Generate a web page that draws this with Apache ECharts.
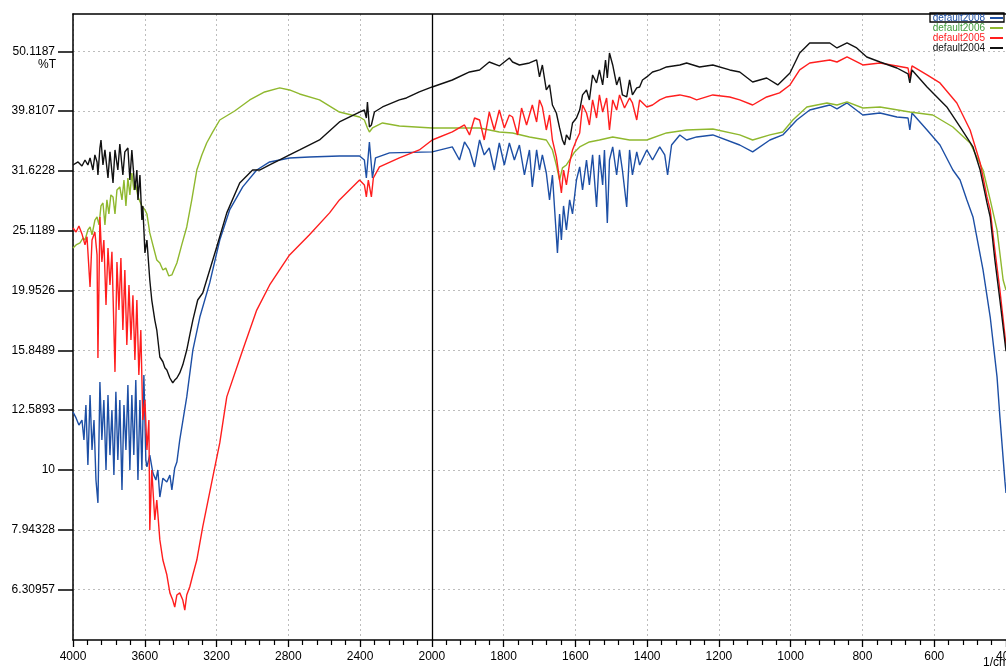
<!DOCTYPE html>
<html>
<head>
<meta charset="utf-8">
<title>%T spectra</title>
<script src="https://cdn.jsdelivr.net/npm/echarts@6/dist/echarts.min.js"></script>
<style>
  html, body { margin: 0; padding: 0; background: #fff; }
  #chart { width: 1006px; height: 666px; }
</style>
</head>
<body>
<div id="chart"></div>
<script>
// wavenumber (1/cm), %T
const s2008 = [[4000,12.50],[3983,12.22],[3967,11.89],[3950,12.12],[3939,11.23],[3928,12.84],[3917,10.19],[3905,13.35],[3894,10.80],[3883,12.12],[3872,9.62],[3861,8.81],[3850,14.03],[3839,11.23],[3828,13.09],[3816,10.00],[3805,13.35],[3794,10.59],[3783,12.60],[3772,9.81],[3761,13.51],[3750,10.39],[3739,13.09],[3727,9.26],[3716,12.84],[3705,10.80],[3694,13.87],[3683,10.00],[3672,13.35],[3661,10.59],[3650,14.14],[3638,9.62],[3627,13.09],[3616,10.00],[3605,14.42],[3594,10.39],[3588,10.12],[3572,10.59],[3555,9.89],[3538,9.62],[3527,10.00],[3516,9.01],[3499,9.69],[3477,9.55],[3460,9.81],[3449,9.26],[3433,10.08],[3421,10.31],[3405,11.23],[3366,13.25],[3332,15.87],[3293,18.02],[3238,20.55],[3182,24.24],[3127,27.22],[3054,29.74],[2976,31.74],[2904,32.74],[2793,33.25],[2682,33.38],[2515,33.50],[2403,33.50],[2376,32.99],[2365,30.78],[2348,35.36],[2331,30.78],[2314,33.25],[2236,33.90],[1999,34.03],[1943,34.69],[1923,32.99],[1909,35.36],[1895,34.29],[1881,32.12],[1867,35.63],[1854,33.64],[1840,34.55],[1826,31.74],[1812,35.22],[1798,32.36],[1784,35.22],[1770,32.99],[1756,34.95],[1742,31.14],[1728,34.29],[1720,29.74],[1708,34.29],[1700,31.74],[1692,33.64],[1681,31.38],[1672,28.29],[1664,31.14],[1655,25.69],[1650,23.07],[1644,26.80],[1639,24.24],[1633,27.64],[1625,25.20],[1616,28.29],[1608,26.80],[1597,30.54],[1588,32.12],[1580,29.40],[1569,32.99],[1561,29.97],[1552,33.64],[1541,27.54],[1533,33.64],[1524,29.97],[1519,34.29],[1511,25.88],[1505,32.99],[1496,34.69],[1485,31.14],[1477,34.29],[1469,31.74],[1457,27.54],[1449,34.29],[1441,31.14],[1429,34.03],[1421,32.36],[1401,34.29],[1385,32.99],[1365,34.69],[1351,33.64],[1343,31.14],[1332,34.95],[1309,36.33],[1290,35.63],[1262,36.05],[1217,36.33],[1142,34.95],[1106,34.03],[1058,35.63],[1022,36.33],[983,38.48],[947,39.99],[891,40.77],[871,40.15],[843,41.09],[799,39.23],[751,39.53],[704,38.93],[673,38.78],[668,37.03],[662,39.53],[620,37.03],[584,34.95],[548,31.74],[528,30.54],[509,28.29],[492,26.49],[464,21.60],[444,18.02],[425,14.31],[417,12.27],[403,9.58],[400,9.15]];

const s2006 = [[4000,23.51],[3983,23.79],[3961,23.97],[3944,24.43],[3933,24.24],[3917,25.20],[3905,25.49],[3894,24.73],[3878,26.18],[3866,26.49],[3855,25.69],[3844,27.64],[3833,27.96],[3822,25.69],[3811,28.29],[3800,26.80],[3789,28.84],[3777,28.62],[3766,26.80],[3755,29.40],[3739,29.74],[3727,28.29],[3716,30.54],[3705,27.64],[3694,30.78],[3683,28.84],[3672,31.38],[3661,29.40],[3650,29.97],[3638,28.62],[3627,28.84],[3616,27.64],[3599,27.22],[3588,26.80],[3572,24.91],[3555,23.79],[3533,22.45],[3516,22.19],[3499,21.60],[3483,21.76],[3466,21.11],[3449,21.19],[3433,21.76],[3421,22.19],[3394,23.79],[3366,25.49],[3338,28.29],[3310,31.74],[3282,33.64],[3255,35.22],[3221,36.75],[3182,38.48],[3099,39.84],[3015,41.57],[2932,42.87],[2848,43.54],[2793,43.20],[2737,42.54],[2626,41.57],[2515,39.68],[2403,38.93],[2376,38.48],[2359,37.32],[2348,36.75],[2331,37.32],[2275,38.04],[2181,37.60],[1999,37.32],[1943,37.32],[1867,37.32],[1812,36.75],[1775,36.61],[1728,36.05],[1681,35.63],[1664,34.29],[1653,32.36],[1644,30.54],[1636,32.00],[1625,32.36],[1616,32.99],[1602,34.03],[1588,34.69],[1561,35.36],[1533,35.63],[1496,36.05],[1449,35.63],[1401,35.63],[1346,36.61],[1290,37.03],[1217,37.17],[1142,36.33],[1106,35.63],[1058,36.33],[1022,36.75],[994,38.48],[955,40.46],[899,41.09],[871,40.77],[843,41.25],[799,40.30],[751,40.46],[668,39.68],[604,39.23],[548,37.46],[500,35.22],[464,31.74],[444,28.29],[425,25.20],[408,20.78],[400,20.00]];

const s2005 = [[4000,25.39],[3983,25.00],[3967,25.59],[3950,24.82],[3933,23.79],[3922,24.55],[3905,20.23],[3894,24.24],[3878,25.00],[3866,22.89],[3861,15.39],[3850,26.49],[3839,22.28],[3828,24.24],[3816,18.88],[3805,23.51],[3794,20.39],[3783,23.16],[3766,14.59],[3755,22.28],[3744,18.51],[3733,22.62],[3722,17.14],[3711,21.60],[3700,16.18],[3688,20.39],[3677,16.50],[3666,19.60],[3655,15.28],[3644,19.24],[3633,14.42],[3622,17.14],[3611,12.12],[3599,13.09],[3588,10.80],[3577,12.12],[3572,7.94],[3561,10.00],[3544,8.25],[3533,8.91],[3516,7.64],[3499,7.07],[3477,6.68],[3460,6.23],[3444,6.06],[3433,5.90],[3421,6.18],[3405,6.23],[3388,6.06],[3377,5.83],[3366,6.18],[3349,6.38],[3332,6.68],[3310,7.07],[3277,8.03],[3221,9.73],[3182,11.10],[3143,13.25],[3054,15.87],[2976,18.51],[2904,20.39],[2793,22.89],[2682,24.73],[2570,26.91],[2515,28.29],[2403,30.54],[2376,29.97],[2365,28.62],[2354,30.54],[2337,28.62],[2326,30.78],[2292,32.12],[2181,33.25],[2070,34.29],[1999,35.63],[1943,36.75],[1909,37.75],[1895,36.33],[1881,38.78],[1867,38.48],[1854,35.63],[1840,39.68],[1826,37.03],[1812,39.99],[1798,37.32],[1784,39.23],[1775,38.93],[1761,36.33],[1750,40.30],[1736,37.75],[1720,40.77],[1708,38.19],[1700,41.57],[1692,40.46],[1681,37.03],[1672,39.23],[1664,35.63],[1653,33.38],[1644,30.54],[1639,29.06],[1633,31.74],[1625,29.97],[1616,32.61],[1608,34.29],[1597,35.63],[1588,36.61],[1580,40.77],[1569,39.53],[1561,37.75],[1552,41.57],[1541,38.78],[1533,42.38],[1524,39.68],[1513,41.89],[1505,37.03],[1496,41.57],[1485,39.99],[1477,42.38],[1463,40.30],[1449,41.89],[1441,41.09],[1429,38.48],[1421,41.57],[1401,40.46],[1385,40.77],[1365,41.57],[1346,42.05],[1309,42.38],[1282,42.05],[1262,41.57],[1217,42.38],[1170,42.05],[1142,41.57],[1106,40.77],[1067,42.05],[1031,42.71],[1002,44.04],[975,46.66],[947,47.93],[891,48.49],[871,48.11],[843,49.05],[799,47.56],[751,47.93],[704,47.38],[673,47.01],[668,45.24],[662,47.38],[620,45.77],[584,44.38],[537,41.09],[500,37.03],[472,32.61],[453,28.62],[444,27.22],[431,23.33],[417,20.00],[400,16.18]];

const s2004 = [[4000,32.36],[3972,32.74],[3950,32.24],[3933,32.99],[3917,32.36],[3905,33.25],[3889,31.74],[3878,33.64],[3866,32.74],[3861,31.14],[3850,34.55],[3844,35.63],[3833,32.36],[3822,34.29],[3805,30.78],[3794,34.03],[3777,30.20],[3766,34.29],[3750,31.74],[3739,35.09],[3722,31.14],[3711,34.03],[3694,34.55],[3683,30.54],[3672,34.29],[3655,29.40],[3644,31.74],[3638,28.29],[3627,31.14],[3616,26.18],[3611,27.64],[3599,23.07],[3588,24.24],[3572,20.78],[3561,19.24],[3544,17.81],[3533,17.14],[3516,15.45],[3499,15.17],[3488,14.82],[3477,14.70],[3460,14.25],[3444,13.98],[3433,14.14],[3421,14.25],[3405,14.53],[3388,14.99],[3366,15.87],[3349,16.82],[3332,17.81],[3305,19.24],[3277,19.77],[3238,21.60],[3199,23.60],[3143,26.91],[3071,30.20],[2999,31.74],[2960,31.74],[2904,32.36],[2848,32.99],[2793,33.64],[2737,34.29],[2626,35.63],[2515,38.19],[2403,39.68],[2376,39.99],[2365,38.78],[2359,41.25],[2348,37.46],[2337,37.75],[2320,39.68],[2275,40.46],[2181,41.57],[2142,41.89],[2070,42.87],[1999,43.70],[1943,44.89],[1895,46.30],[1867,46.66],[1840,48.11],[1812,47.38],[1784,48.86],[1775,48.11],[1756,47.56],[1728,47.93],[1708,48.49],[1700,45.42],[1692,47.56],[1681,43.20],[1672,44.04],[1664,40.77],[1653,39.53],[1644,37.32],[1636,35.63],[1630,34.95],[1625,36.33],[1616,35.63],[1608,38.04],[1597,38.78],[1588,39.99],[1580,42.38],[1569,43.20],[1561,41.57],[1552,45.77],[1541,44.38],[1533,46.66],[1524,44.04],[1516,48.49],[1511,45.24],[1505,49.81],[1496,47.56],[1485,44.04],[1477,45.42],[1469,42.38],[1457,42.05],[1449,44.89],[1441,42.38],[1429,43.54],[1421,43.70],[1413,44.89],[1401,45.42],[1385,46.30],[1365,46.66],[1346,47.20],[1309,47.56],[1290,47.93],[1254,47.20],[1217,47.56],[1170,46.66],[1142,46.30],[1106,44.55],[1067,45.24],[1036,44.04],[1002,46.12],[975,49.81],[947,51.77],[891,51.77],[871,50.78],[843,51.77],[816,50.78],[788,49.05],[751,48.11],[704,47.01],[673,45.95],[668,44.38],[662,46.66],[620,43.70],[565,40.46],[528,37.46],[492,34.69],[472,31.74],[453,27.96],[444,26.49],[431,22.45],[417,19.24],[400,15.80]];

const seriesNames = ['default2008', 'default2006', 'default2005', 'default2004'];
const yTickLabels = ['50.1187', '39.8107', '31.6228', '25.1189', '19.9526', '15.8489', '12.5893', '10', '7.94328', '6.30957'];

const colors = {
  default2008: '#1d4fa5',
  default2006: '#8fb82e',
  default2005: '#ff1e1e',
  default2004: '#111111'
};
const legendTextColors = {
  default2008: '#1d4fa5',
  default2006: '#3f9c3a',
  default2005: '#ff1e1e',
  default2004: '#111111'
};

// above 2000 1/cm the spectrum is drawn at half scale
const toAxisX = w => (w > 2000 ? 2000 + (w - 2000) / 2 : w);
const fromAxisX = u => (u > 2000 ? 2000 + (u - 2000) * 2 : u);

const yTickLog = yTickLabels.map(s => Math.log10(parseFloat(s)));
const FONT = '"Liberation Sans", Arial, sans-serif';

const chart = echarts.init(document.getElementById('chart'), null, { renderer: 'canvas' });

const makeSeries = (name, pts) => ({
  name,
  type: 'line',
  showSymbol: false,
  symbol: 'none',
  data: pts.map(p => [toAxisX(p[0]), Math.log10(p[1])]),
  lineStyle: { color: colors[name], width: 1.4 },
  itemStyle: { color: colors[name] },
  animation: false
});

const series = [
  makeSeries('default2008', s2008),
  makeSeries('default2006', s2006),
  makeSeries('default2005', s2005),
  makeSeries('default2004', s2004)
];
// solid divider at 2000 1/cm
series[3].markLine = {
  silent: true,
  symbol: 'none',
  label: { show: false },
  lineStyle: { color: '#000', type: 'solid', width: 1.3 },
  data: [{ xAxis: 2000 }]
};

const option = {
  backgroundColor: '#fff',
  animation: false,
  grid: { left: 73, right: 0, top: 14, bottom: 26, containLabel: false, outerBoundsMode: 'none' },
  legend: {
    orient: 'vertical',
    right: 3,
    top: 13,
    align: 'right',
    icon: 'rect',
    itemWidth: 13,
    itemHeight: 2,
    itemGap: 0,
    padding: 0,
    data: seriesNames.map(n => ({ name: n, textStyle: { color: legendTextColors[n] } })),
    textStyle: { fontFamily: FONT, fontSize: 10, lineHeight: 9.5, padding: [0, 0, 0, 0] }
  },
  xAxis: [
    {
      type: 'value',
      inverse: true,
      min: 400,
      max: 3000,
      interval: 200,
      axisLine: { show: true, onZero: false, lineStyle: { color: '#000', width: 1.5 } },
      axisTick: { show: true, length: 7, lineStyle: { color: '#000', width: 1.3 } },
      minorTick: { show: true, splitNumber: 5, length: 5, lineStyle: { color: '#000', width: 1.2 } },
      axisLabel: {
        color: '#000',
        fontFamily: FONT,
        fontSize: 12,
        margin: 11,
        formatter: v => String(fromAxisX(v))
      },
      splitLine: { show: true, lineStyle: { color: '#bdbdbd', type: [2, 3], width: 1 } }
    },
    {
      type: 'value',
      position: 'top',
      inverse: true,
      min: 400,
      max: 3000,
      axisLine: { show: true, onZero: false, lineStyle: { color: '#000', width: 1.5 } },
      axisTick: { show: false },
      axisLabel: { show: false },
      splitLine: { show: false }
    }
  ],
  yAxis: {
    type: 'value',
    min: 0.7157,
    max: 1.7625,
    axisLine: { show: true, onZero: false, lineStyle: { color: '#000', width: 1.5 } },
    axisTick: { show: true, length: 15, customValues: yTickLog, lineStyle: { color: '#000', width: 1.5 } },
    axisLabel: {
      color: '#000',
      fontFamily: FONT,
      fontSize: 12,
      margin: 18,
      customValues: yTickLog,
      formatter: v => {
        const i = yTickLog.findIndex(t => Math.abs(t - v) < 1e-6);
        return i >= 0 ? yTickLabels[i] : '';
      }
    },
    splitLine: { show: true, lineStyle: { color: '#bdbdbd', type: [2, 3], width: 1 } }
  },
  graphic: [
    {
      type: 'text',
      left: 38,
      top: 59,
      style: { text: '%T', fill: '#000', font: '12px ' + FONT }
    },
    {
      type: 'text',
      left: 983,
      top: 657,
      style: { text: '1/cm', fill: '#000', font: '12px ' + FONT }
    },
    {
      type: 'rect',
      shape: { x: 930, y: 13, width: 74, height: 9 },
      style: { fill: 'none', stroke: '#000', lineWidth: 1.3 },
      z: 100
    }
  ],
  series
};

chart.setOption(option);
</script>
</body>
</html>
